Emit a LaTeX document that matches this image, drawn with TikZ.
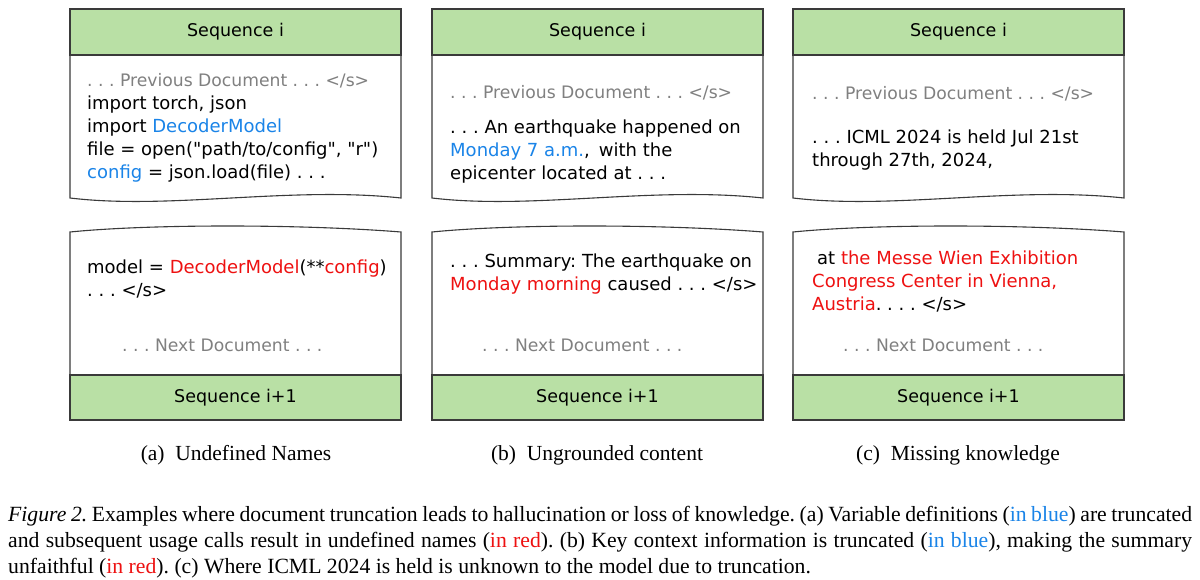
\documentclass[tikz,border=0pt]{standalone}
\usepackage{fontspec}
\setmainfont{Liberation Serif}
\newfontfamily\seqfont{DejaVu Sans}
\usetikzlibrary{positioning}
\definecolor{seqgreen}{HTML}{B9E0A5}
\definecolor{hlblue}{HTML}{1A84E8}
\definecolor{hlred}{HTML}{EE1111}
\definecolor{docgray}{HTML}{808080}
\definecolor{framegray}{HTML}{3A3A3A}
\frenchspacing

\begin{document}
\begin{tikzpicture}[
    x=1pt, y=-1pt,
    seqbox/.style={draw=framegray, line width=1.1pt, fill=seqgreen,
                   minimum width=331pt, minimum height=46pt, inner sep=0pt,
                   font=\seqfont\fontsize{17.5}{21}\selectfont},
    paper/.style={draw=framegray, line width=1.1pt, fill=white},
    doctext/.style={anchor=west, inner sep=0pt, align=left,
                    font=\seqfont\fontsize{18}{23}\selectfont},
    prevtext/.style={doctext, text=docgray,
                     font=\seqfont\fontsize{17.2}{23}\selectfont},
    subcap/.style={inner sep=0pt, font=\fontsize{21.5}{24}\selectfont},
    capline/.style={anchor=base west, inner sep=0pt,
                    font=\fontsize{21.7}{26}\selectfont}
  ]
  \useasboundingbox (0,0) rectangle (1200,580);
  \fill[white] (0,0) rectangle (1200,580);

  % paper pieces and sequence headers
  \foreach \xl/\pn in {70/a, 432/b, 793/c} {
    \path[paper] (\xl,55) -- (\xl,198)
      .. controls (\xl+100,210) and (\xl+220,186) .. (\xl+331,198)
      -- (\xl+331,55) -- cycle;
    \node[seqbox] (hdr\pn) at (\xl+165.5,32) {Sequence i};
    \path[paper] (\xl,375) -- (\xl,232)
      .. controls (\xl+80,224) and (\xl+230,224) .. (\xl+331,232)
      -- (\xl+331,375) -- cycle;
    \node[seqbox, minimum height=45pt] (ftr\pn) at (\xl+165.5,397.5)
      {Sequence i+1};
  }

  % (a) undefined names
  \node[prevtext] (preva) at (87,81) {. . . Previous Document . . . </s>};
  \node[doctext] (bodya) at (87,139.5)
    {import torch, json\\
     import \textcolor{hlblue}{DecoderModel}\\
     file = open("path/to/config", "r")\\
     \textcolor{hlblue}{config} = json.load(file) . . .};
  \node[doctext] (usea) at (87,278.5)
    {model = \textcolor{hlred}{DecoderModel}(**\textcolor{hlred}{config})\\
     . . . </s>};
  \node[prevtext] (nexta) at (122,345) {. . . Next Document . . .};

  % (b) ungrounded content
  \node[prevtext] (prevb) at (450,93) {. . . Previous Document . . . </s>};
  \node[doctext] (bodyb) at (450,151.5)
    {. . . An earthquake happened on\\
     \textcolor{hlblue}{Monday 7 a.m.},\enspace with the\\
     epicenter located at . . .};
  \node[doctext] (sumb) at (450,274.5)
    {. . . Summary: The earthquake on\\
     \textcolor{hlred}{Monday morning} caused . . . </s>};
  \node[prevtext] (nextb) at (482,345) {. . . Next Document . . .};

  % (c) missing knowledge
  \node[prevtext] (prevc) at (812,94) {. . . Previous Document . . . </s>};
  \node[doctext] (bodyc) at (812,150)
    {. . . ICML 2024 is held Jul 21st\\
     through 27th, 2024,};
  \node[doctext] (venuec) at (812,281)
    {\hspace*{5pt}at \textcolor{hlred}{the Messe Wien Exhibition}\\
     \textcolor{hlred}{Congress Center in Vienna,}\\
     \textcolor{hlred}{Austria}. . . . </s>};
  \node[prevtext] (nextc) at (843,345) {. . . Next Document . . .};

  % sub-captions
  \node[subcap] (capa) at (236,455) {(a)\enspace Undefined Names};
  \node[subcap] (capb) at (597,455) {(b)\enspace Ungrounded content};
  \node[subcap] (capc) at (958,455) {(c)\enspace Missing knowledge};

  % figure caption
  \node[capline] (capl1) at (8,521) {\makebox[1184pt][s]{\textit{Figure 2.}
    Examples where document truncation leads to hallucination or loss of
    knowledge. (a) Variable definitions (\textcolor{hlblue}{in blue}) are
    truncated}};
  \node[capline] (capl2) at (8,547) {\makebox[1184pt][s]{and subsequent
    usage calls result in undefined names (\textcolor{hlred}{in red}).
    (b) Key context information is truncated (\textcolor{hlblue}{in blue}),
    making the summary}};
  \node[capline] (capl3) at (8,573) {unfaithful (\textcolor{hlred}{in red}).
    (c) Where ICML 2024 is held is unknown to the model due to truncation.};
\end{tikzpicture}
\end{document}
